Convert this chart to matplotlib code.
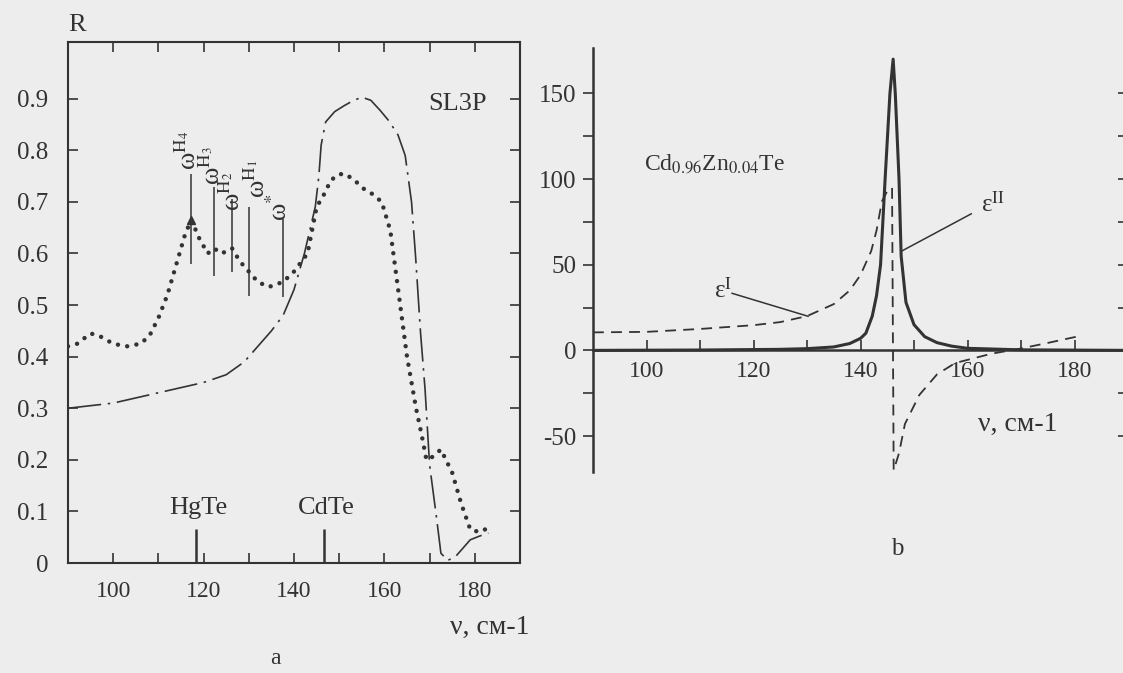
import matplotlib.pyplot as plt

plt.rcParams['font.family'] = ['Liberation Serif', 'DejaVu Serif']
plt.rcParams['mathtext.fontset'] = 'stix'

ink = '#333333'

# --- panel a: reflectivity of SL3P ---
dot_x = [90, 92, 95, 97, 100, 103, 106, 108, 110, 112, 114, 116, 117.3, 119, 120.9,
         122.3, 124, 126.3, 128, 130, 132, 134.4, 137.6, 140, 143, 145, 147, 148,
         149.5, 151, 153, 155.5, 157.4, 159.4, 161.3, 163.8, 165, 167, 168.2, 169.3,
         170.5, 172.5, 175, 177, 179, 181, 183]
dot_r = [0.42, 0.425, 0.445, 0.44, 0.425, 0.42, 0.425, 0.44, 0.475, 0.52, 0.58, 0.64,
         0.665, 0.63, 0.60, 0.61, 0.60, 0.61, 0.585, 0.565, 0.545, 0.535, 0.545, 0.565,
         0.60, 0.69, 0.72, 0.74, 0.752, 0.755, 0.745, 0.725, 0.715, 0.70, 0.645, 0.48,
         0.40, 0.30, 0.25, 0.20, 0.205, 0.22, 0.175, 0.115, 0.065, 0.06, 0.068]

dd_x = [90, 95, 100, 105, 110, 115, 120, 125, 129, 132, 135, 137.6, 140, 142.3, 143.5,
        144.7, 145.5, 146, 147, 149, 151, 153, 155, 157, 159, 161, 163, 164.6, 166,
        166.9, 168, 169, 170, 171.5, 172.5, 174, 175.7, 177, 179, 181, 183]
dd_r = [0.30, 0.305, 0.31, 0.32, 0.33, 0.34, 0.35, 0.365, 0.39, 0.42, 0.45, 0.48, 0.53,
        0.60, 0.645, 0.69, 0.75, 0.81, 0.855, 0.875, 0.886, 0.896, 0.903, 0.897, 0.878,
        0.857, 0.83, 0.79, 0.70, 0.594, 0.446, 0.336, 0.19, 0.09, 0.019, 0.005, 0.012,
        0.025, 0.045, 0.052, 0.058]

mode_x = [117.3, 122.3, 126.3, 130.0, 137.6]
mode_lo = [0.58, 0.557, 0.565, 0.517, 0.515]
mode_hi = [0.755, 0.728, 0.705, 0.69, 0.666]
mode_lbl = [r'ω$^{\rm H_4}$', r'ω$^{\rm H_3}$', r'ω$^{\rm H_2}$', r'ω$^{\rm H_1}$', r'ω$^{*}$']
mode_lx = [116.6, 121.9, 126.3, 131.9, 136.8]
mode_ly = [0.80, 0.77, 0.72, 0.745, 0.69]

bulk_x = [118.4, 146.7]
bulk_lbl = ['HgTe', 'CdTe']

# --- panel b: dielectric function of Cd0.96Zn0.04Te ---
e1_x = [90, 100, 110, 120, 125, 130, 135, 138, 140, 142, 143, 144, 145, 145.9,
        146.2, 147.2, 148.3, 151, 154.3, 157.7, 164.4, 169.8, 174.5, 181]
e1_y = [10.5, 10.8, 12.5, 14.7, 16.5, 20, 27, 35, 44, 58, 70, 87, 93, 95,
        -70, -60, -43, -26, -14, -7.4, -2, 1, 4, 8.4]

e2_x = [90, 110, 125, 130, 135, 138, 140, 141, 142.2, 143, 143.75, 144.6, 145.5, 146.1,
        146.5, 147.2, 147.6, 148.5, 150, 152, 154.3, 157, 160, 170, 190]
e2_y = [0, 0.2, 0.6, 1, 2, 4, 7, 10, 20, 32, 50, 100, 150, 170,
        150, 100, 55, 28, 15, 8, 4.5, 2.5, 1.2, 0.3, 0]

W, H = 1123, 673
fig = plt.figure(figsize=(W / 100, H / 100), dpi=100, facecolor='#ededed')

def px(x0, y0, x1, y1):
    return [x0 / W, 1 - y1 / H, (x1 - x0) / W, (y1 - y0) / H]

ax = fig.add_axes(px(68, 42, 520, 563))
ax.set_facecolor('none')
ax.plot(dd_x, dd_r, color=ink, lw=1.2, ls=(0, (20, 4, 1.5, 4)))
ax.plot(dot_x, dot_r, color=ink, lw=3.2, ls=(0, (0.01, 2.1)), dash_capstyle='round')
ax.vlines(mode_x, mode_lo, mode_hi, color=ink, lw=1.1)
ax.plot(mode_x[0], 0.665, marker='^', ms=6, color=ink)
for x, y, s in zip(mode_lx, mode_ly, mode_lbl):
    ax.text(x, y, s, rotation=90, ha='center', va='center', fontsize=19, color=ink)
ax.vlines(bulk_x, 0, 0.065, color=ink, lw=1.8)
for x, s in zip(bulk_x, bulk_lbl):
    ax.text(x + 0.5, 0.107, s, ha='center', va='center', fontsize=19, color=ink)
ax.text(169.6, 0.89, 'SL3P', ha='left', va='center', fontsize=19, color=ink)
ax.set_xlim(90, 190)
ax.set_ylim(0, 1.01)
ax.set_xticks(range(100, 190, 10))
ax.set_xticklabels(['100', '', '120', '', '140', '', '160', '', '180'])
ax.set_yticks([0, 0.1, 0.2, 0.3, 0.4, 0.5, 0.6, 0.7, 0.8, 0.9])
ax.set_yticklabels(['0', '0.1', '0.2', '0.3', '0.4', '0.5', '0.6', '0.7', '0.8', '0.9'])
ax.tick_params(direction='in', top=True, right=True, length=7, width=1.2, colors=ink)
ax.tick_params(axis='x', pad=13, labelsize=17)
ax.tick_params(axis='y', pad=14, labelsize=18)
for sp in ax.spines.values():
    sp.set_linewidth(1.5)
    sp.set_color(ink)

fig.text(77 / W, 1 - 25 / H, 'R', ha='center', va='center', fontsize=19, color=ink)
fig.text(490 / W, 1 - 627 / H, 'ν, см-1', ha='center', va='center', fontsize=20, color=ink)
fig.text(275 / W, 1 - 659 / H, 'a', ha='center', va='center', fontsize=17, color=ink)

bx = fig.add_axes(px(593, 48, 1128, 472))
bx.set_facecolor('none')
bx.plot(e2_x, e2_y, color=ink, lw=2.2)
bx.plot(e1_x, e1_y, color=ink, lw=1.3, ls=(0, (6, 4)))
bx.plot([116, 130.2], [33.3, 19.9], color=ink, lw=1.1)
bx.plot([160.7, 147.6], [79.7, 57.8], color=ink, lw=1.1)
bx.text(114.3, 35, r'ε$^{\rm I}$', ha='center', va='center', fontsize=18, color=ink)
bx.text(162.5, 85, r'ε$^{\rm II}$', ha='left', va='center', fontsize=18, color=ink)
bx.text(99.5, 109, r'Cd$_{0.96}$Zn$_{0.04}$Te', ha='left', va='center', fontsize=17, color=ink)
bx.text(169.3, -43, 'ν, см-1', ha='center', va='center', fontsize=20, color=ink)
bx.set_xlim(90, 190)
bx.set_ylim(-71, 176.5)
bx.spines['top'].set_visible(False)
bx.spines['right'].set_visible(False)
bx.spines['bottom'].set_position(('data', 0))
for sp in ('left', 'bottom'):
    bx.spines[sp].set_linewidth(1.8)
    bx.spines[sp].set_color(ink)
bx.set_xticks(range(100, 190, 10))
bx.set_xticklabels(['100', '', '120', '', '140', '', '160', '', '180'])
bx.set_yticks([-50, -25, 0, 25, 50, 75, 100, 125, 150])
bx.set_yticklabels(['-50', '', '0', '', '50', '', '100', '', '150'])
bx.tick_params(axis='x', direction='in', length=7, width=1.2, pad=8, labelsize=17, colors=ink)
bx.tick_params(axis='y', direction='out', length=7, width=1.2, pad=5, labelsize=18, colors=ink)

tw = bx.twinx()
tw.set_ylim(-71, 176.5)
tw.set_yticks([-50, -25, 0, 25, 50, 75, 100, 125, 150])
tw.tick_params(axis='y', direction='in', length=7, width=1.2, labelright=False, colors=ink)
for sp in tw.spines.values():
    sp.set_visible(False)

fig.text(897 / W, 1 - 549 / H, 'b', ha='center', va='center', fontsize=18, color=ink)

fig.savefig('out.png', dpi=100, facecolor=fig.get_facecolor())
